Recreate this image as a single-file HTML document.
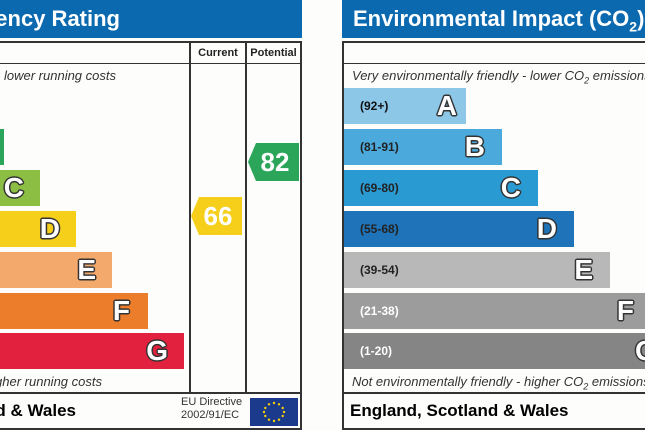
<!DOCTYPE html>
<html><head><style>
html,body{margin:0;width:645px;height:430px;overflow:hidden}
body{background:#fdfdfb;font-family:"Liberation Sans",sans-serif;position:relative}
div{position:absolute;box-sizing:border-box}
.hdr{top:0;height:38px;background:#0b69b0;color:#fff;font-weight:bold;font-size:22px;line-height:38px;white-space:nowrap;overflow:hidden}
.ln{background:#333}
.it{font-style:italic;font-size:13px;color:#333;white-space:nowrap}
.bar{height:36px;overflow:hidden}
.L{font-weight:bold;font-size:28px;color:#fff;line-height:36px;text-align:right;padding-right:10px;
text-shadow:-1.5px 0 #333,1.5px 0 #333,0 -1.5px #333,0 1.5px #333,-1px -1px #333,1px 1px #333,-1px 1px #333,1px -1px #333}
.rg{font-weight:bold;font-size:12px;line-height:36px;left:360px;white-space:nowrap}
.ft{font-weight:bold;font-size:17px;color:#000;white-space:nowrap;line-height:36px}
</style></head><body>
<!-- left -->
<div class="hdr" style="left:0;width:302px"><span style="position:absolute;right:182px">Energy Efficiency Rating</span></div>
<div class="ln" style="left:0;top:41px;width:302px;height:2px"></div>
<div class="ln" style="left:0;top:63px;width:302px;height:1px"></div>
<div class="ln" style="left:0;top:392px;width:302px;height:2px"></div>
<div class="ln" style="left:0;top:428px;width:302px;height:2px"></div>
<div class="ln" style="left:189px;top:41px;width:2px;height:353px"></div>
<div class="ln" style="left:245px;top:41px;width:2px;height:353px"></div>
<div class="ln" style="left:300px;top:41px;width:2px;height:389px"></div>
<div style="left:191px;top:43px;width:54px;font-size:11px;font-weight:bold;text-align:center;line-height:20px;color:#222">Current</div>
<div style="left:247px;top:43px;width:53px;font-size:11px;font-weight:bold;text-align:center;line-height:20px;color:#222">Potential</div>
<div class="it" style="right:529px;top:68px">Very energy efficient - lower running costs</div>
<div class="bar" style="left:0;top:129px;width:4px;background:#2aa55a"></div>
<div class="bar L" style="left:0;top:170px;width:40px;background:#8dbe44;padding-right:16px">C</div>
<div class="bar L" style="left:0;top:211px;width:76px;background:#f5cf1a;padding-right:16px">D</div>
<div class="bar L" style="left:0;top:252px;width:112px;background:#f3a96b;padding-right:16px">E</div>
<div class="bar L" style="left:0;top:293px;width:148px;background:#ec7d2a;padding-right:18px">F</div>
<div class="bar L" style="left:0;top:333px;width:184px;background:#e1213d;padding-right:16px">G</div>
<div class="it" style="right:543px;top:374px">Not energy efficient - higher running costs</div>
<div class="ft" style="right:569px;top:393px">England, Scotland &amp; Wales</div>
<div style="left:181px;top:396px;font-size:11px;color:#333;line-height:13px">EU Directive<br>2002/91/EC</div>
<div style="left:250px;top:398px;width:48px;height:28px;background:#1b3a8c">
<svg width="48" height="28"><g fill="#f5d000">
<circle cx="24" cy="5" r="1.2"/><circle cx="29" cy="6.3" r="1.2"/><circle cx="32.7" cy="10" r="1.2"/><circle cx="34" cy="14" r="1.2"/><circle cx="32.7" cy="18" r="1.2"/><circle cx="29" cy="21.7" r="1.2"/><circle cx="24" cy="23" r="1.2"/><circle cx="19" cy="21.7" r="1.2"/><circle cx="15.3" cy="18" r="1.2"/><circle cx="14" cy="14" r="1.2"/><circle cx="15.3" cy="10" r="1.2"/><circle cx="19" cy="6.3" r="1.2"/></g></svg></div>
<svg style="position:absolute;left:191px;top:197px" width="51" height="38"><polygon points="8,0 51,0 51,38 8,38 0,19" fill="#f5cf1a"/><text x="27" y="28" font-family="Liberation Sans" font-weight="bold" font-size="26" fill="#fff" text-anchor="middle">66</text></svg>
<svg style="position:absolute;left:248px;top:143px" width="51" height="38"><polygon points="8,0 51,0 51,38 8,38 0,19" fill="#2aa55a"/><text x="27" y="28" font-family="Liberation Sans" font-weight="bold" font-size="26" fill="#fff" text-anchor="middle">82</text></svg>
<!-- right -->
<div class="hdr" style="left:342px;width:303px;padding-left:11px">Environmental Impact (CO<sub style="font-size:14px">2</sub>) Rating</div>
<div class="ln" style="left:342px;top:41px;width:303px;height:2px"></div>
<div class="ln" style="left:342px;top:63px;width:303px;height:1px"></div>
<div class="ln" style="left:342px;top:392px;width:303px;height:2px"></div>
<div class="ln" style="left:342px;top:428px;width:303px;height:2px"></div>
<div class="ln" style="left:342px;top:41px;width:2px;height:389px"></div>
<div class="it" style="left:352px;top:68px;width:293px;overflow:hidden">Very environmentally friendly - lower CO<sub style="font-size:9px">2</sub> emissions</div>
<div class="bar L" style="left:344px;top:88px;width:122px;background:#8cc7e8;padding-right:9px">A</div>
<div class="bar L" style="left:344px;top:129px;width:158px;background:#4ba9dc;padding-right:17px">B</div>
<div class="bar L" style="left:344px;top:170px;width:194px;background:#2a9ad3;padding-right:17px">C</div>
<div class="bar L" style="left:344px;top:211px;width:230px;background:#1f73b8;padding-right:17px">D</div>
<div class="bar L" style="left:344px;top:252px;width:266px;background:#b8b8b8;padding-right:17px">E</div>
<div class="bar L" style="left:344px;top:293px;width:301px;background:#9c9c9c;padding-right:11px">F</div>
<div class="bar" style="left:344px;top:333px;width:301px;background:#858585"><div class="L" style="left:291px;top:0;height:36px">G</div></div>
<div class="rg" style="top:88px;color:#111">(92+)</div>
<div class="rg" style="top:129px;color:#222">(81-91)</div>
<div class="rg" style="top:170px;color:#222">(69-80)</div>
<div class="rg" style="top:211px;color:#222">(55-68)</div>
<div class="rg" style="top:252px;color:#222">(39-54)</div>
<div class="rg" style="top:293px;color:#fff">(21-38)</div>
<div class="rg" style="top:333px;color:#fff">(1-20)</div>
<div class="it" style="left:352px;top:374px;width:293px;overflow:hidden">Not environmentally friendly - higher CO<sub style="font-size:9px">2</sub> emissions</div>
<div class="ft" style="left:350px;top:393px">England, Scotland &amp; Wales</div>
</body></html>
